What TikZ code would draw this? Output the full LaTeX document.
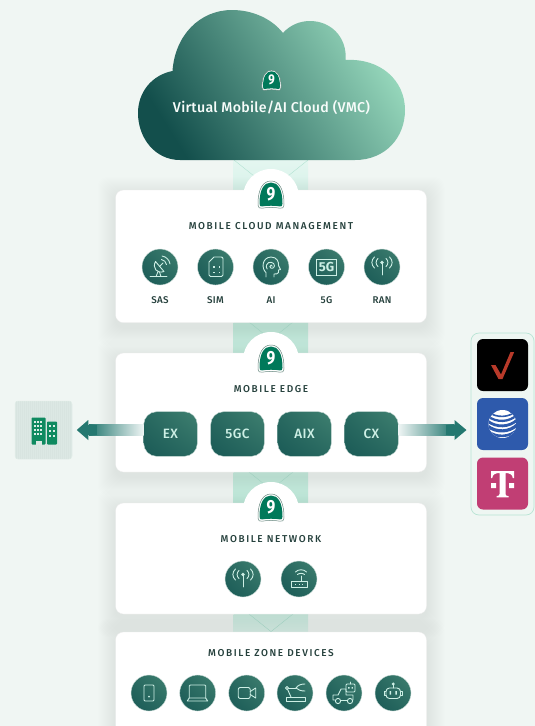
\documentclass[tikz,border=0pt]{standalone}
\usepackage{fontspec}
\setmainfont{Fira Sans}
\newfontfamily\cardfont[LetterSpace=16]{Fira Sans Medium}
\newfontfamily\labelfont[LetterSpace=3]{Fira Sans Medium}
\newfontfamily\boxfont[LetterSpace=3]{Fira Sans Medium}
\newfontfamily\cloudfont[LetterSpace=2]{Fira Sans Medium}
\usetikzlibrary{calc,shadings}
\definecolor{pagebg}{HTML}{F0F6F3}
\definecolor{ink}{HTML}{25403C}
\definecolor{icondark}{HTML}{1A5A56}
\definecolor{iconlight}{HTML}{3F8070}
\definecolor{iconline}{HTML}{CDEFE5}
\definecolor{shieldgreen}{HTML}{00795A}
\definecolor{arrowteal}{HTML}{247870}
\definecolor{cloudA}{HTML}{134F4C}
\definecolor{cloudB}{HTML}{5E9E8A}
\definecolor{cloudC}{HTML}{97D8BC}
\definecolor{E4F6F0}{HTML}{E4F6F0}
\definecolor{D8F3EA}{HTML}{D8F3EA}
\definecolor{C8ECDF}{HTML}{C8ECDF}
\definecolor{C4EBDD}{HTML}{C4EBDD}
\definecolor{CBEEE1}{HTML}{CBEEE1}
\definecolor{BFE9DA}{HTML}{BFE9DA}
\definecolor{CFEEE3}{HTML}{CFEEE3}
\definecolor{DDF3EB}{HTML}{DDF3EB}
\definecolor{xline}{HTML}{ADE0CF}
\definecolor{bldgbg}{HTML}{DCE8E4}
\definecolor{bldgedge}{HTML}{E2EEE9}
\definecolor{bldgdot}{HTML}{CBDAD4}
\definecolor{bldggreen}{HTML}{0F8A60}
\definecolor{panelbg}{HTML}{EEF6F2}
\definecolor{paneledge}{HTML}{B8E4D4}
\definecolor{attblue}{HTML}{2E5AAC}
\definecolor{tmpink}{HTML}{C13E74}
\definecolor{vzred}{HTML}{B83A2A}
\tikzset{
  x=1pt,y=-1pt,
  cardbox/.style={fill=white,draw=white!92!black,line width=.3pt,rounded corners=8pt,inner sep=0pt,minimum width=311pt},
  cardtitle/.style={font=\cardfont\fontsize{10}{12}\selectfont,text=ink,inner sep=0pt},
  iconlabel/.style={font=\labelfont\fontsize{9.8}{11}\selectfont,text=ink,inner sep=0pt},
  iconcirc/.style={circle,minimum size=36pt,inner sep=0pt,draw=white!75!iconlight,line width=.4pt,lower left=icondark,upper right=iconlight,lower right=icondark!60!iconlight,upper left=icondark!60!iconlight},
  edgebox/.style={rounded corners=13pt,minimum width=53.6pt,minimum height=44.6pt,inner sep=0pt,draw=white!70!iconlight,line width=.4pt,lower left=icondark,upper right=iconlight,lower right=icondark!60!iconlight,upper left=icondark!60!iconlight,text=iconline,font=\boxfont\fontsize{13.5}{15}\selectfont},
  ic/.style={draw=iconline,line width=.9pt,line cap=round,line join=round,fill=none},
  bump/.style={circle,fill=white,minimum size=56pt,inner sep=0pt},
  logobox/.style={rounded corners=6pt,minimum width=51pt,minimum height=52pt,inner sep=0pt},
  pics/shield/.style={code={
    \path[fill=white,draw=black!55!shieldgreen!60,line width=.5pt] (-13,9) .. controls (-13,-6) and (-8,-14) .. (0,-14) .. controls (8,-14) and (13,-6) .. (13,9) .. controls (13,13) and (11,13.7) .. (9,13.2) .. controls (4,12.2) and (-4,12.2) .. (-9,13.2) .. controls (-11,13.7) and (-13,13) .. cycle;
    \path[fill=shieldgreen] (-11.5,8.5) .. controls (-11.5,-5.5) and (-7,-12.5) .. (0,-12.5) .. controls (7,-12.5) and (11.5,-5.5) .. (11.5,8.5) .. controls (11.5,11) and (10.5,11.7) .. (9,11.4) .. controls (4,10.5) and (-4,10.5) .. (-9,11.4) .. controls (-10.5,11.7) and (-11.5,11) .. cycle;
    \node (-n) [text=white,inner sep=0pt,transform shape,xscale=.82,font=\bfseries\fontsize{19}{19}\selectfont] at (0,-.5) {9};
  }},
  pics/sas/.style={code={
    \draw[ic] (-10,9.7) -- (7,9.7);
    \draw[ic] (-4,9.7) -- (-2,4.5) (1,9.7) -- (-.5,5);
    \draw[ic] (-4.5,-5.5) .. controls (-8,1) and (-3,7) .. (4,4.5) -- cycle;
    \draw[ic] (-.5,-.5) -- (3,-4);
    \draw[ic] (1.5,-7.5) .. controls (4,-7) and (6,-5) .. (6.5,-2.5);
    \draw[ic] (2,-11) .. controls (6,-10.5) and (9.5,-7) .. (10,-3);
  }},
  pics/sim/.style={code={
    \draw[ic] (-6.5,-5) -- (-1.5,-10) -- (5.5,-10) .. controls (7,-10) and (7.5,-9.5) .. (7.5,-8) -- (7.5,8) .. controls (7.5,9) and (7,9.5) .. (6,9.5) -- (-5,9.5) .. controls (-6,9.5) and (-6.5,9) .. (-6.5,8) -- cycle;
    \foreach \a in {-2.5,3}{\foreach \b in {-1,4.5}{\fill[iconline] (\a,\b) rectangle ++(1.6,1.6);}}
  }},
  pics/aihead/.style={code={
    \draw[ic] (-5,10) -- (-5,5.5) .. controls (-9.5,2) and (-9.5,-9.5) .. (0,-10) .. controls (6,-10) and (8,-5) .. (7.5,-1.5) -- (9.5,2.5) -- (7.5,3) -- (7.5,5.5) .. controls (7,7) and (5,7) .. (3,7) -- (3,10);
    \draw[ic] (-1,-.5) .. controls (-1,2) and (3,2) .. (3.5,-1) .. controls (4,-5) and (-3,-6.5) .. (-4.5,-2) .. controls (-5,-.5) and (-4.5,1) .. (-3.8,2);
    \draw[ic] (-1,-.5) .. controls (-1,-2.5) and (1.5,-2.5) .. (1.2,-.7);
  }},
  pics/fiveg/.style={code={
    \draw[ic,line cap=butt,line join=miter] (-10,-8) rectangle (10,8);
    \node (-t) [text=iconline,inner sep=0pt,font=\bfseries\fontsize{13}{13}\selectfont] at (0,0) {5G};
  }},
  pics/ran/.style={code={
    \fill[iconline] (0,-4.5) circle (1.8);
    \draw[ic] (0,-4) -- (0,8);
    \foreach \s in {1,-1}{
      \draw[ic] (\s*4,-8.5) .. controls (\s*6.5,-6.5) and (\s*6.5,-2.5) .. (\s*4,-.5);
      \draw[ic] (\s*7.5,-10) .. controls (\s*11,-7) and (\s*11,-2) .. (\s*7.5,1);
    }
  }},
  pics/router/.style={code={
    \draw[ic] (-7.5,2.5) rectangle (8,8);
    \foreach \a in {-4,-.5,3}{\fill[iconline] (\a,4.6) rectangle ++(1.3,1.3);}
    \draw[ic] (2,2.5) -- (2,-3);
    \draw[ic] (-1.5,-4.5) .. controls (0,-6) and (4,-6) .. (5.5,-4.5);
    \draw[ic] (-3.5,-7) .. controls (-1,-10) and (5,-10) .. (7.5,-7);
  }},
  pics/phone/.style={code={
    \draw[ic,rounded corners=1pt] (-5,-8) rectangle (5,8);
    \fill[iconline] (0,3.5) circle (1);
  }},
  pics/laptop/.style={code={
    \draw[ic,rounded corners=1pt] (-8.5,5) -- (-8.5,-8) -- (8,-8) -- (8,5);
    \draw[ic] (-8.5,5) -- (8,5) -- (10,8) -- (-10.5,8) -- cycle;
  }},
  pics/camera/.style={code={
    \draw[ic,rounded corners=2pt] (-8.5,-5.5) rectangle (3.5,5.5);
    \draw[ic] (3.5,-1.5) -- (9,-5) -- (9,5) -- (3.5,1.5);
  }},
  pics/roboarm/.style={code={
    \draw[ic] (-9,4) rectangle (10,8);
    \draw[ic] (-4,4) -- (-7.4,-3.6);
    \draw[ic] (-8,-5) circle (1.6);
    \draw[ic] (-6.4,-5) -- (1,-5);
    \draw[ic] (1,-5) .. controls (3,-8) and (6,-9) .. (10,-9);
    \draw[ic] (1,-5) .. controls (3,-3) and (6,-2) .. (10,-2);
  }},
  pics/robocar/.style={code={
    \draw[ic] (-9,7) -- (-11,7) -- (-11,2) -- (-6,2) -- (-3,-4) -- (2,-4) -- (2,2) -- (9,2) -- (9,7) -- (8.8,7);
    \draw[ic] (-3,7) -- (3,7);
    \draw[ic] (-6,8) circle (2.6) (6,8) circle (2.6);
    \draw[ic,rounded corners=1pt] (2,-9) rectangle (11,-1);
    \draw[ic] (6.5,-9) -- (6.5,-11);
    \fill[iconline] (4.2,-6) rectangle ++(1.4,1.6) (7.5,-6) rectangle ++(1.4,1.6);
  }},
  pics/bot/.style={code={
    \draw[ic,rounded corners=3.5pt] (-7,-5) rectangle (7.5,5.5);
    \draw[ic] (.25,-5) -- (.25,-8);
    \fill[iconline] (.25,-9) circle (1.6);
    \draw[ic] (-7,-2) -- (-9,-2) -- (-9,2) -- (-7,2) (7.5,-2) -- (9.5,-2) -- (9.5,2) -- (7.5,2);
    \fill[iconline] (-3.4,-2) rectangle ++(1.5,3.5) (2.4,-2) rectangle ++(1.5,3.5);
  }},
}
\begin{document}
\begin{tikzpicture}
\useasboundingbox (0,0) rectangle (535,726);
\clip (0,0) rectangle (535,726);
\fill[pagebg] (0,0) rectangle (535,726);

% central strip, gap by gap
\foreach \ya/\yb/\ca/\cb/\hw in {160/190/E4F6F0/D8F3EA/37,322/353/C8ECDF/C4EBDD/22,472/503/CBEEE1/BFE9DA/22,614/632/CFEEE3/DDF3EB/22}{
  \shade[top color=\ca,bottom color=\cb] (233.5,\ya) rectangle (308,\yb);
  \draw[xline,line width=.35pt] (271-\hw,\ya) -- (271,\ya+.8*\hw) -- (271+\hw,\ya);
}

% soft shadows under the cards
\foreach \ya/\yb in {190/322.7,353/472,503/614,632/740}{
  \foreach \g in {1,2,...,18}{
    \fill[black!40!icondark,opacity=.003,rounded corners=10pt] (115.5-\g,\ya-\g+5) rectangle (426.5+\g,\yb+\g+5);
  }
}

% cloud
\path[left color=cloudA,middle color=cloudB,right color=cloudC,shading angle=122]
  (180,160) .. controls (155,160) and (138,138) .. (138,113)
  .. controls (138,92) and (152,75) .. (172.5,71)
  .. controls (175,35) and (200,10) .. (232,10)
  .. controls (253,10) and (272,19) .. (283,33)
  .. controls (290,25) and (300,21) .. (310,21)
  .. controls (330,21) and (347,36) .. (345.7,60)
  .. controls (380,58) and (405,80) .. (405,110)
  .. controls (405,138) and (385,160) .. (355,160) -- cycle;
\node (cloudtext) [text=white!92!cloudC,inner sep=0pt,font=\cloudfont\fontsize{14.2}{16}\selectfont] at (271.5,108) {Virtual Mobile/AI Cloud (VMC)};
\pic (cloudbadge) [scale=.74] at (271.5,80.5) {shield};

% cards
\node (cardA) [cardbox,minimum height=132.7pt] at (271,256.35) {};
\node (cardB) [cardbox,minimum height=119pt] at (271,412.5) {};
\node (cardC) [cardbox,minimum height=111pt] at (271,558.5) {};
\node (cardD) [cardbox,minimum height=108pt] at (271,686) {};
\node (bumpA) [bump] at (271,197) {};
\node (bumpB) [bump] at (271,360) {};
\node (bumpC) [bump] at (271,510) {};
\pic (shieldA) at (271,195) {shield};
\pic (shieldB) at (271,359) {shield};
\pic (shieldC) at (271,508) {shield};

% card 1
\node (titleA) [cardtitle] at (271,226.5) {MOBILE CLOUD MANAGEMENT};
\foreach \n/\x/\ico/\t in {sas/160/sas/SAS,simc/215.5/sim/SIM,aic/271/aihead/AI,fg/326.5/fiveg/5G,ran/382/ran/RAN}{
  \node (c\n) [iconcirc] at (\x,267) {};
  \pic (i\n) at (\x,267) {\ico};
  \node (l\n) [iconlabel] at (\x,300) {\t};
}

% card 2
\node (titleB) [cardtitle] at (271,389.5) {MOBILE EDGE};
\node (ex) [edgebox] at (170.5,434) {EX};
\node (fgc) [edgebox] at (237.5,434) {5GC};
\node (aix) [edgebox] at (304.5,434) {AIX};
\node (cx) [edgebox] at (371.5,434) {CX};

% card 3
\node (titleC) [cardtitle] at (271,539.5) {MOBILE NETWORK};
\node (cnA) [iconcirc] at (243,579) {};
\pic (inA) at (243,579) {ran};
\node (cnB) [iconcirc] at (299,579) {};
\pic (inB) at (299,579) {router};

% card 4
\node (titleD) [cardtitle] at (271,653) {MOBILE ZONE DEVICES};
\foreach \n/\x/\ico in {a/149/phone,b/197.7/laptop,c/246.7/camera,d/295/roboarm,e/344/robocar,f/393/bot}{
  \node (cz\n) [iconcirc] at (\x,693) {};
  \pic (iz\n) at (\x,693) {\ico};
}

% building
\node (bldg) [minimum width=57pt,minimum height=58pt,inner sep=0pt,rounded corners=3pt,fill=bldgbg,draw=bldgedge,line width=.5pt] at (43.5,430) {};
\foreach \i in {0,...,27}{\foreach \j in {0,...,28}{\fill[bldgdot] (16.5+2*\i,402+2*\j) circle (.35);}}
\path[fill=bldggreen,rounded corners=.8pt] (31.5,417.5) rectangle (45.5,444.5);
\path[fill=bldggreen,rounded corners=.8pt] (47,421.5) rectangle (57,444.5);
\fill[bldgbg] (35.5,444.6) -- (35.5,441) -- (41.5,441) -- (41.5,444.6) -- cycle;
\foreach \i in {0,1,2}{\foreach \j in {0,1,2,3}{\fill[white!85!bldggreen] (34+3.2*\i,420.5+4.2*\j) rectangle ++(1.7,2);}}
\foreach \i in {0,1}{\foreach \j in {0,1,2}{\fill[white!85!bldggreen] (49+3.7*\i,425+5*\j) rectangle ++(1.8,2.2);}}

% arrows
\coordinate (lefttip) at ($(bldg.east)+(4.5,0)$);
\coordinate (righttip) at (466.5,430);
\shade[left color=arrowteal,right color=arrowteal!8!white] ($(lefttip)+(12,-5.3)$) rectangle (ex.west |- 0,435.6);
\fill[arrowteal] (lefttip) -- ++(11.5,-10) -- ++(0,20) -- cycle;
\fill[arrowteal] ($(lefttip)+(11,-5.3)$) rectangle ($(lefttip)+(20,5.3)$);
\shade[right color=arrowteal,left color=arrowteal!8!white] (cx.east |- 0,424.7) rectangle ($(righttip)+(-12,5.3)$);
\fill[arrowteal] (righttip) -- ++(-12,-10) -- ++(0,20) -- cycle;
\fill[arrowteal] ($(righttip)+(-21,-5.3)$) rectangle ($(righttip)+(-11,5.3)$);

% carrier panel
\node (panel) [minimum width=63pt,minimum height=182pt,inner sep=0pt,rounded corners=8pt,fill=panelbg,draw=paneledge,line width=.7pt] at (502.5,424) {};
\node (vz) [logobox,fill=black] at (502.5,365) {};
\node (att) [logobox,fill=attblue] at (502.5,424) {};
\node (tm) [logobox,fill=tmpink] at (502.5,483.5) {};
\fill[vzred] ($(vz)+(-11.5,0)$) -- ($(vz)+(-7,0)$) -- ($(vz)+(-1.5,9.5)$) -- ($(vz)+(8,-13)$) -- ($(vz)+(11.7,-13)$) -- ($(vz)+(0,14)$) -- ($(vz)+(-4,14)$) -- cycle;
\begin{scope}
  \clip (att) circle (14);
  \fill[white] (att) circle (14);
  \foreach \d/\w in {-9/1.6,-4.5/2.3,0.5/2.8,5.5/3.2,10.5/2.6}{
    \draw[attblue,line width=\w pt] ($(att)+(-15,\d-3.5)$) .. controls ($(att)+(-6,\d+3.5)$) and ($(att)+(7,\d+3)$) .. ($(att)+(15,\d-5)$);
  }
\end{scope}
\fill[white] ($(tm)+(-11.5,-12.5)$) -- ($(tm)+(11.5,-12.5)$) -- ($(tm)+(11.5,-5.5)$) -- ($(tm)+(10.3,-5.5)$) .. controls ($(tm)+(10,-9)$) and ($(tm)+(7,-10.5)$) .. ($(tm)+(3,-10.5)$) -- ($(tm)+(3,10.5)$) .. controls ($(tm)+(3,12)$) and ($(tm)+(4,12.6)$) .. ($(tm)+(6,12.6)$) -- ($(tm)+(6,13.8)$) -- ($(tm)+(-6,13.8)$) -- ($(tm)+(-6,12.6)$) .. controls ($(tm)+(-4,12.6)$) and ($(tm)+(-3,12)$) .. ($(tm)+(-3,10.5)$) -- ($(tm)+(-3,-10.5)$) .. controls ($(tm)+(-7,-10.5)$) and ($(tm)+(-10,-9)$) .. ($(tm)+(-10.3,-5.5)$) -- ($(tm)+(-11.5,-5.5)$) -- cycle;
\fill[white] ($(tm)+(-11.5,-.5)$) rectangle ($(tm)+(-6.5,4.5)$) ($(tm)+(6.5,-.5)$) rectangle ($(tm)+(11.5,4.5)$);
\end{tikzpicture}
\end{document}
